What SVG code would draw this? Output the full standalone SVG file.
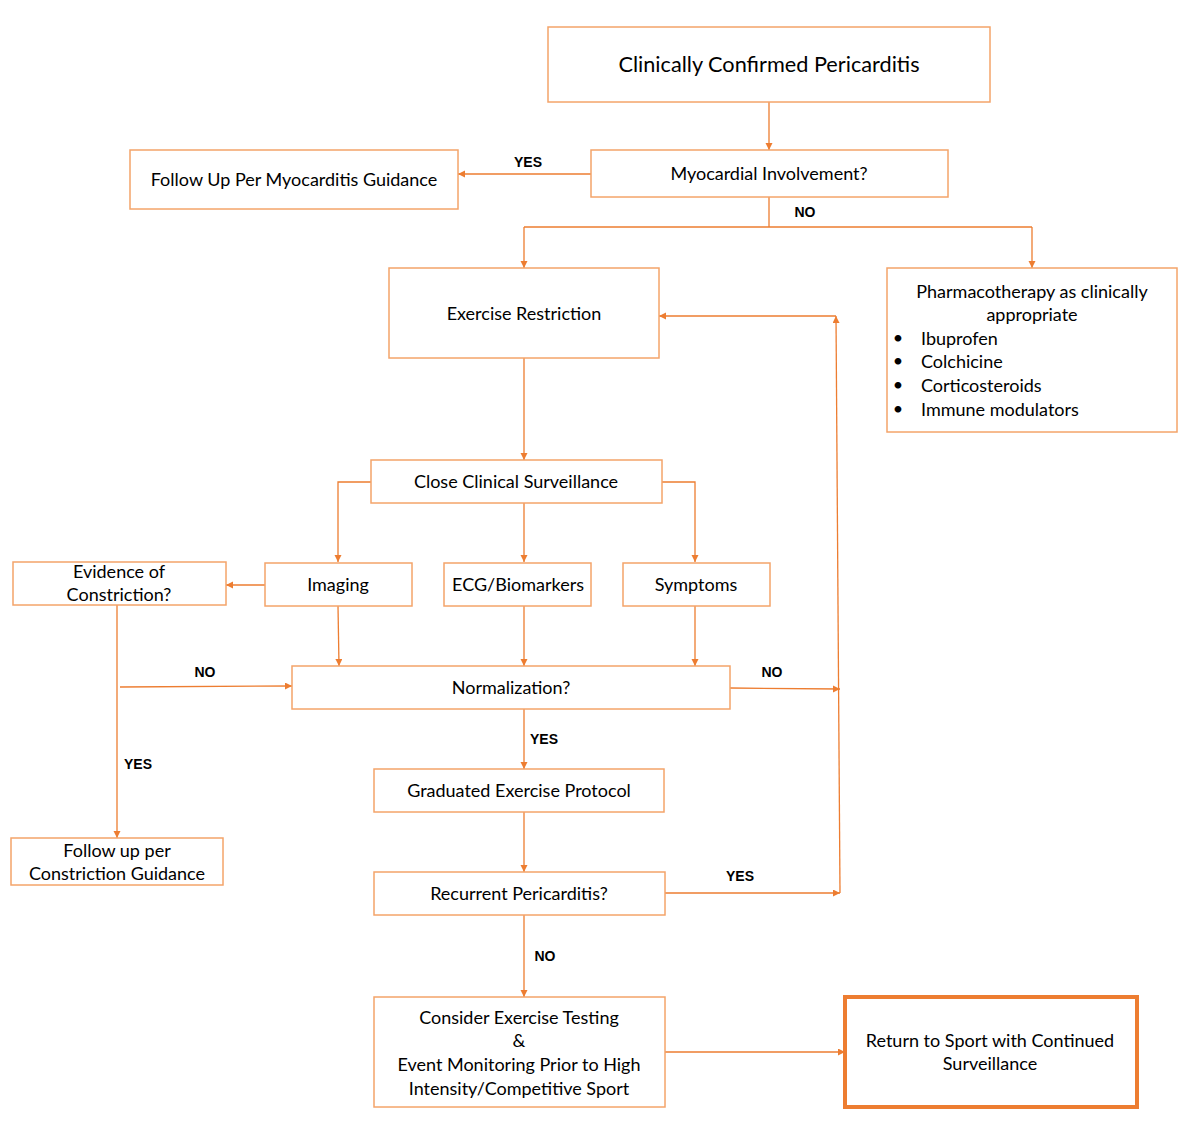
<svg xmlns="http://www.w3.org/2000/svg" width="1200" height="1141" viewBox="0 0 1200 1141">
<defs>
<marker id="ah" markerWidth="8" markerHeight="8" refX="7" refY="3.5" orient="auto" markerUnits="userSpaceOnUse">
<path d="M0,0 L7,3.5 L0,7 z" fill="#ED7D31"/>
</marker>
<style>
.box{fill:#fff;stroke:#F4A46A;stroke-width:1.5}
.thick{fill:#fff;stroke:#ED7D31;stroke-width:4}
.t{font-family:Lato,"Open Sans","Liberation Sans",sans-serif;font-size:18px;fill:#000;text-anchor:middle;dominant-baseline:central}
.tl{text-anchor:start}
.big{font-size:21.7px}
.lab{font-family:"Liberation Sans",Arial,sans-serif;font-size:14px;font-weight:bold;fill:#000;text-anchor:middle;dominant-baseline:central}
.c{fill:none;stroke:#ED7D31;stroke-width:1.3}
.ca{fill:none;stroke:#ED7D31;stroke-width:1.3;marker-end:url(#ah)}
</style>
</defs>
<rect width="1200" height="1141" fill="#fff"/>

<g id="connectors">
<path class="ca" d="M769,102 V150"/>
<path class="ca" d="M591,174 H458"/>
<path class="c" d="M769,197 V227 M524,227 H1032"/>
<path class="ca" d="M524,227 V268"/>
<path class="ca" d="M1032,227 V268"/>
<path class="ca" d="M524,358 V460"/>
<path class="ca" d="M371,482 H338 V562"/>
<path class="ca" d="M524,503 V562"/>
<path class="ca" d="M662,482 H695 V562"/>
<path class="ca" d="M265,585 H226"/>
<path class="ca" d="M338,606 L339,666"/>
<path class="ca" d="M524,606 V666"/>
<path class="ca" d="M695,606 V666"/>
<path class="ca" d="M117,605 V838"/>
<path class="ca" d="M120,687 L292,686"/>
<path class="ca" d="M730,688 L840,689"/>
<path class="ca" d="M840,893 L836,316"/>
<path class="ca" d="M836,316 H659"/>
<path class="ca" d="M524,709 V769"/>
<path class="ca" d="M524,812 V872"/>
<path class="ca" d="M665,893 H840"/>
<path class="ca" d="M524,915 V997"/>
<path class="ca" d="M665,1052 H845"/>
<text class="lab" x="528" y="162">YES</text>
<text class="lab" x="805" y="212">NO</text>
<text class="lab" x="205" y="672">NO</text>
<text class="lab" x="772" y="672">NO</text>
<text class="lab" x="138" y="764">YES</text>
<text class="lab" x="544" y="739">YES</text>
<text class="lab" x="740" y="876">YES</text>
<text class="lab" x="545" y="956">NO</text>
</g>

<g id="n-confirmed"><rect class="box" x="548" y="27" width="442" height="75"/><text class="t big" x="769" y="64">Clinically Confirmed Pericarditis</text></g>
<g id="n-myocardial"><rect class="box" x="591" y="150" width="357" height="47"/><text class="t" x="769" y="173">Myocardial Involvement?</text></g>
<g id="n-followmyo"><rect class="box" x="130" y="150" width="328" height="59"/><text class="t" x="294" y="179">Follow Up Per Myocarditis Guidance</text></g>
<g id="n-restriction"><rect class="box" x="389" y="268" width="270" height="90"/><text class="t" x="524" y="313">Exercise Restriction</text></g>
<g id="n-pharma"><rect class="box" x="887" y="268" width="290" height="164"/>
<text class="t" x="1032" y="291">Pharmacotherapy as clinically</text>
<text class="t" x="1032" y="314">appropriate</text>
<text class="t" x="898" y="337">•</text><text class="t tl" x="921" y="338">Ibuprofen</text>
<text class="t" x="898" y="360">•</text><text class="t tl" x="921" y="361">Colchicine</text>
<text class="t" x="898" y="384">•</text><text class="t tl" x="921" y="385">Corticosteroids</text>
<text class="t" x="898" y="408">•</text><text class="t tl" x="921" y="409">Immune modulators</text>
</g>
<g id="n-surveillance"><rect class="box" x="371" y="460" width="291" height="43"/><text class="t" x="516" y="481">Close Clinical Surveillance</text></g>
<g id="n-evidence"><rect class="box" x="13" y="562" width="213" height="43"/><text class="t" x="119" y="571">Evidence of</text><text class="t" x="119" y="594">Constriction?</text></g>
<g id="n-imaging"><rect class="box" x="265" y="563" width="147" height="43"/><text class="t" x="338" y="584">Imaging</text></g>
<g id="n-ecg"><rect class="box" x="444" y="563" width="147" height="43"/><text class="t" x="518" y="584">ECG/Biomarkers</text></g>
<g id="n-symptoms"><rect class="box" x="623" y="563" width="147" height="43"/><text class="t" x="696" y="584">Symptoms</text></g>
<g id="n-normalization"><rect class="box" x="292" y="666" width="438" height="43"/><text class="t" x="511" y="687">Normalization?</text></g>
<g id="n-graduated"><rect class="box" x="374" y="769" width="290" height="43"/><text class="t" x="519" y="790">Graduated Exercise Protocol</text></g>
<g id="n-followcon"><rect class="box" x="11" y="838" width="212" height="47"/><text class="t" x="117" y="850">Follow up per</text><text class="t" x="117" y="873">Constriction Guidance</text></g>
<g id="n-recurrent"><rect class="box" x="374" y="872" width="291" height="43"/><text class="t" x="519" y="893">Recurrent Pericarditis?</text></g>
<g id="n-consider"><rect class="box" x="374" y="997" width="291" height="110"/>
<text class="t" x="519" y="1017">Consider Exercise Testing</text>
<text class="t" x="519" y="1040">&amp;</text>
<text class="t" x="519" y="1064">Event Monitoring Prior to High</text>
<text class="t" x="519" y="1088">Intensity/Competitive Sport</text>
</g>
<g id="n-return"><rect class="thick" x="845" y="997" width="292" height="110"/>
<text class="t" x="990" y="1040">Return to Sport with Continued</text>
<text class="t" x="990" y="1063">Surveillance</text>
</g>
</svg>
